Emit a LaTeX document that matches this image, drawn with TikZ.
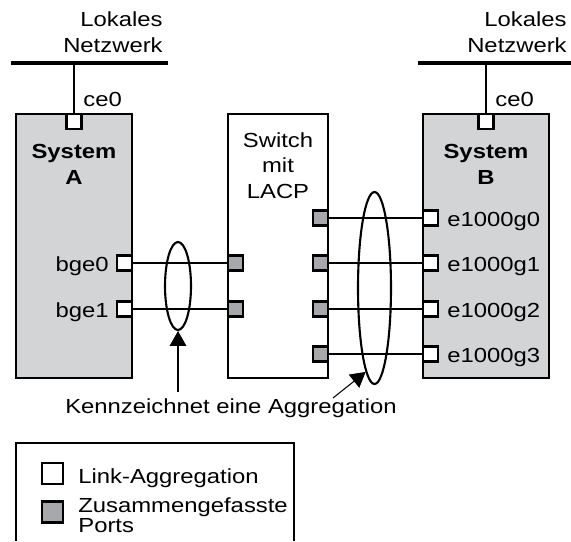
\documentclass[tikz,border=0pt]{standalone}
\usepackage{fontspec}
\setmainfont[FakeStretch=1.17]{Liberation Sans}
\usetikzlibrary{arrows.meta,shapes.geometric}
\definecolor{sysgray}{RGB}{211,212,214}
\definecolor{portgray}{RGB}{166,168,171}
\newcommand{\lblfont}{\fontsize{11.6pt}{14.7pt}\selectfont}

\begin{document}
\begin{tikzpicture}[x=0.02cm, y=-0.02cm,
    every node/.style={font=\lblfont, inner sep=0pt},
    box/.style={draw, line width=1.2pt, minimum height=5.28cm},
    port/.style={draw, line width=1.2pt, fill=white, minimum size=0.3cm},
    gport/.style={port, fill=portgray},
    link/.style={line width=1.2pt},
    bus/.style={line width=2.8pt},
    agg/.style={ellipse, draw, line width=1.2pt},
    pointer/.style={line width=0.6pt, -{Triangle[length=8.5pt, width=9.5pt]}}]
    \useasboundingbox (0,0) rectangle (571,541);

    % System A (left)
    \node[box, fill=sysgray, minimum width=2.32cm] (sysA) at (74,246) {};
    \node[font=\lblfont\bfseries, align=center, anchor=north] (sysAlbl) at (74,144) {System\\A};
    \node[port, anchor=north] (aCe0) at (sysA.north) {};
    \node[port, anchor=east] (aBge0) at (sysA.east |- 0,263) {};
    \node[port, anchor=east] (aBge1) at (sysA.east |- 0,309) {};
    \node[anchor=base east] (aBge0lbl) at ([xshift=-0.14cm, yshift=-0.16cm]aBge0.west) {bge0};
    \node[anchor=base east] (aBge1lbl) at ([xshift=-0.14cm, yshift=-0.16cm]aBge1.west) {bge1};

    % local network A
    \draw[bus] (11,63) -- (168,63);
    \coordinate (netA) at (74,63);
    \draw[link] (netA) -- (aCe0);
    \node[anchor=base west] (aCelbl) at (83,106) {ce0};
    \node[align=right, anchor=north east] (netAlbl) at (163,11.7) {Lokales\\Netzwerk};

    % Switch (middle)
    \node[box, fill=white, minimum width=2cm] (sw) at (278,246) {};
    \node[align=center, anchor=north] (swlbl) at (278,132) {Switch\\mit\\LACP};
    \node[gport, anchor=west] (swL0) at (sw.west |- 0,263) {};
    \node[gport, anchor=west] (swL1) at (sw.west |- 0,309) {};
    \node[gport, anchor=east] (swR0) at (sw.east |- 0,218) {};
    \node[gport, anchor=east] (swR1) at (sw.east |- 0,263) {};
    \node[gport, anchor=east] (swR2) at (sw.east |- 0,309) {};
    \node[gport, anchor=east] (swR3) at (sw.east |- 0,354) {};

    % System B (right)
    \node[box, fill=sysgray, minimum width=2.52cm] (sysB) at (486,246) {};
    \node[font=\lblfont\bfseries, align=center, anchor=north] (sysBlbl) at (486,144) {System\\B};
    \node[port, anchor=north] (bCe0) at (sysB.north) {};
    \node[port, anchor=west] (bG0) at (sysB.west |- 0,218) {};
    \node[port, anchor=west] (bG1) at (sysB.west |- 0,263) {};
    \node[port, anchor=west] (bG2) at (sysB.west |- 0,309) {};
    \node[port, anchor=west] (bG3) at (sysB.west |- 0,354) {};
    \node[anchor=base west] (bG0lbl) at ([xshift=0.16cm, yshift=-0.17cm]bG0.east) {e1000g0};
    \node[anchor=base west] (bG1lbl) at ([xshift=0.16cm, yshift=-0.17cm]bG1.east) {e1000g1};
    \node[anchor=base west] (bG2lbl) at ([xshift=0.16cm, yshift=-0.17cm]bG2.east) {e1000g2};
    \node[anchor=base west] (bG3lbl) at ([xshift=0.16cm, yshift=-0.17cm]bG3.east) {e1000g3};

    % local network B
    \draw[bus] (418,63) -- (572,63);
    \coordinate (netB) at (486,63);
    \draw[link] (netB) -- (bCe0);
    \node[anchor=base west] (bCelbl) at (495,106) {ce0};
    \node[align=right, anchor=north east] (netBlbl) at (567,11.7) {Lokales\\Netzwerk};

    % links
    \draw[link] (aBge0) -- (swL0);
    \draw[link] (aBge1) -- (swL1);
    \draw[link] (swR0) -- (bG0);
    \draw[link] (swR1) -- (bG1);
    \draw[link] (swR2) -- (bG2);
    \draw[link] (swR3) -- (bG3);

    % aggregations - drawn after the links
    \node[agg, minimum width=0.52cm, minimum height=1.76cm] (aggA) at (178,286) {};
    \node[agg, minimum width=0.66cm, minimum height=3.84cm] (aggB) at (374.5,288) {};
    \node[anchor=base] (note) at (231,413) {Kennzeichnet eine Aggregation};
    \coordinate (noteA) at (178,392);
    \coordinate (noteB) at (333,398);
    \draw[pointer] (noteA) -- (aggA.south);
    \draw[pointer] (noteB) -- (aggB.264);

    % legend (open at the bottom)
    \draw[link] (16,541) -- (16,443) -- (294,443) -- (294,541);
    \node[port, minimum size=0.42cm] (keyLink) at (52.5,473.5) {};
    \node[gport, minimum size=0.42cm] (keyPort) at (52.5,512) {};
    \node[anchor=base west] (keyLinklbl) at (78,483) {Link-Aggregation};
    \node[font=\fontsize{11.6pt}{10pt}\selectfont, align=left, anchor=north west] (keyPortlbl) at (78,497.5) {Zusammengefasste\\Ports};
\end{tikzpicture}
\end{document}
